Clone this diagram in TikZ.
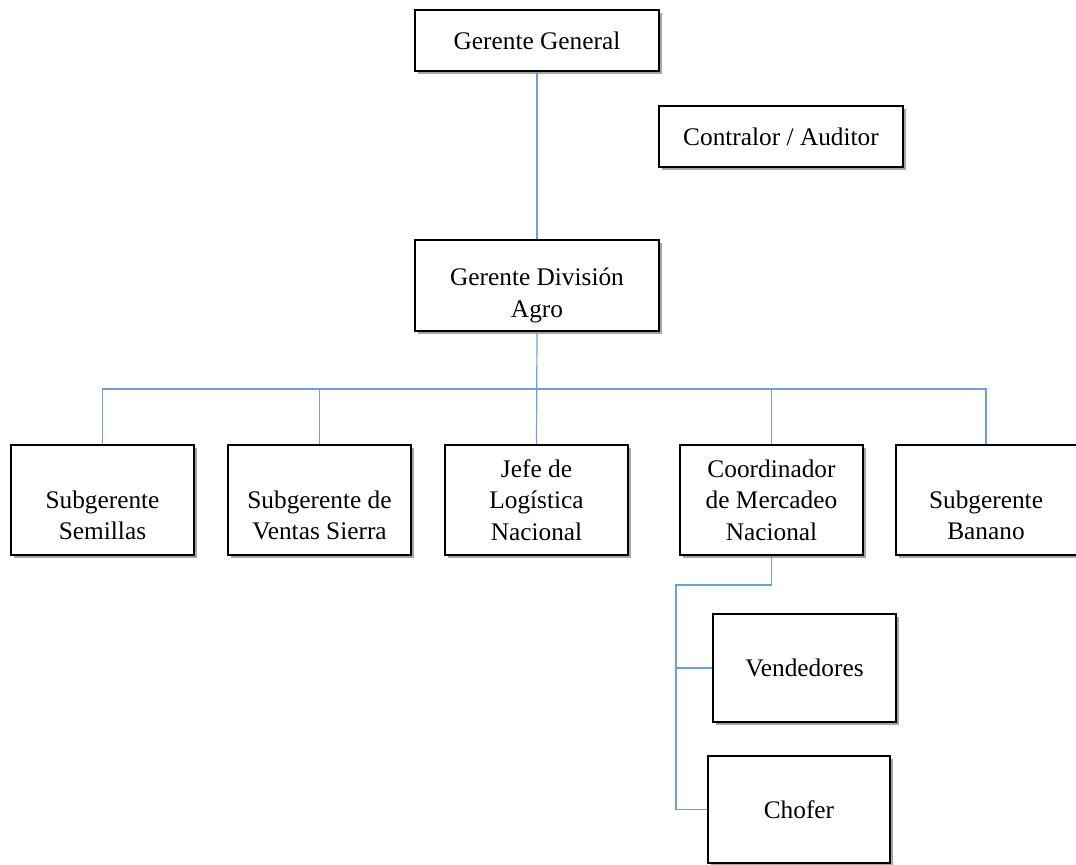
\documentclass[tikz,border=0pt]{standalone}
\usepackage{fontspec}
\setmainfont{Liberation Serif}
\usetikzlibrary{shadows}
\definecolor{linkblue}{RGB}{110,160,215}
\tikzset{
  box/.style={draw=black, line width=1.5pt, fill=white, align=center, inner sep=0pt,
    font=\fontsize{19}{23.5}\selectfont,
    drop shadow={shadow xshift=2.5pt, shadow yshift=-2.5pt, opacity=0.5, fill=black!70}},
  wide/.style={box, minimum width=183pt},
  unit/.style={box, minimum width=137.25pt, minimum height=82.5pt},
  link/.style={draw=linkblue, line width=0.9pt}
}
\begin{document}
\begin{tikzpicture}[x=0.75pt,y=-0.75pt]
        \useasboundingbox (0,0) rectangle (1076,865);
        %% Top management
        \node[wide, minimum height=45.75pt] (gg) at (537,40.5) {Gerente General};
        \node[wide, minimum height=45.75pt] (contralor) at (781,136.5) {Contralor / Auditor};
        \node[wide, minimum height=68.25pt] (gda) at (537,285.5) {\phantom{X}\\[-8pt]Gerente División\\Agro};
        %% Division heads
        \node[unit] (semillas) at (102.5,500) {\phantom{X}\\Subgerente\\Semillas};
        \node[unit] (ventas) at (319.5,500) {\phantom{X}\\Subgerente de\\Ventas Sierra};
        \node[unit] (jefe) at (536.5,500) {Jefe de\\Logística\\Nacional};
        \node[unit] (coord) at (771.5,500) {Coordinador\\de Mercadeo\\Nacional};
        \node[unit, minimum width=135.75pt] (banano) at (986,500) {\phantom{X}\\Subgerente\\Banano};
        %% Sales staff
        \node[unit, minimum height=81pt] (vend) at (804.5,668) {Vendedores};
        \node[unit, minimum width=136.5pt, minimum height=80.25pt] (chofer) at (799,809.5) {Chofer};
        %% Links
        \coordinate (bus) at (537,389);
        \coordinate (elbow) at (676,585);
        \draw[link] (gg.south) -- (gda.north);
        \draw[link] (gda.south) -- (jefe.north);
        \draw[link] (semillas.north) |- (bus) -| (banano.north);
        \draw[link] (ventas.north) |- (bus);
        \draw[link] (coord.north) |- (bus);
        \draw[link] (coord.south) |- (elbow) |- (chofer.west);
        \draw[link] (elbow) |- (vend.west);
\end{tikzpicture}
\end{document}
